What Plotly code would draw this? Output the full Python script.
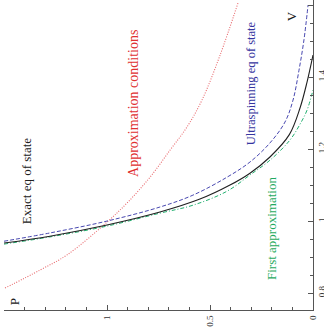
import plotly.graph_objects as go

# values: V (vertical axis) and P (horizontal, reversed)
approx_v = [0.814, 0.864, 0.906, 0.997, 1.053, 1.122, 1.197, 1.261, 1.336, 1.461, 1.606]
approx_p = [1.495, 1.325, 1.194, 1.000, 0.898, 0.791, 0.694, 0.612, 0.539, 0.451, 0.364]

exact_v = [0.939, 0.958, 0.989, 1.025, 1.061, 1.100, 1.133, 1.178, 1.240, 1.314, 1.386, 1.461]
exact_p = [1.500, 1.277, 1.000, 0.743, 0.549, 0.403, 0.306, 0.209, 0.115, 0.063, 0.029, 0.000]

ultra_v = [0.944, 0.967, 1.000, 1.039, 1.072, 1.122, 1.164, 1.217, 1.275, 1.336, 1.419, 1.503, 1.600]
ultra_p = [1.500, 1.277, 1.000, 0.743, 0.583, 0.417, 0.306, 0.209, 0.136, 0.097, 0.068, 0.044, 0.024]

first_v = [0.936, 0.956, 0.986, 1.022, 1.044, 1.083, 1.128, 1.169, 1.225, 1.269, 1.308, 1.364]
first_p = [1.500, 1.277, 1.000, 0.743, 0.583, 0.417, 0.306, 0.209, 0.112, 0.063, 0.029, 0.000]

p_ticks = [0, 0.5, 1, 1.5]
p_labels = ["0", "0.5", "1", "1.5"]
v_ticks = [0.8, 1.0, 1.2, 1.4, 1.6]
v_labels = ["0.8", "1", "1.2", "1.4", "1.6"]

SERIF = "Liberation Serif, Times New Roman, serif"

fig = go.Figure()

fig.add_trace(go.Scatter(x=approx_p, y=approx_v, mode="lines", line_shape="spline",
                         line=dict(color="#e8686c", width=1.1, dash="1px,1.5px")))
fig.add_trace(go.Scatter(x=ultra_p, y=ultra_v, mode="lines", line_shape="spline",
                         line=dict(color="#4848b0", width=1, dash="4px,2px")))
fig.add_trace(go.Scatter(x=first_p, y=first_v, mode="lines", line_shape="spline",
                         line=dict(color="#22b070", width=1, dash="4px,2px,1px,2px")))
fig.add_trace(go.Scatter(x=exact_p, y=exact_v, mode="lines", line_shape="spline",
                         line=dict(color="#202020", width=1.1)))

# curve labels, rotated like the rest of the plot
labels = [
    ("Exact eq of state", 1.393, 1.111, "#202020", 13),
    ("Approximation conditions", 0.869, 1.328, "#e03030", 14),
    ("Ultraspinning eq of state", 0.301, 1.383, "#3535a0", 12.5),
    ("First approximation", 0.199, 0.978, "#1faa60", 13),
    ("P", 1.451, 0.775, "#202020", 13),
    ("V", 0.107, 1.569, "#202020", 13),
]
for txt, px, vy, col, sz in labels:
    fig.add_annotation(x=px, y=vy, text=txt, showarrow=False, textangle=-90,
                       font=dict(family=SERIF, size=sz, color=col))

fig.update_layout(
    width=324, height=330,
    margin=dict(l=4, r=11, t=0, b=20),
    paper_bgcolor="white", plot_bgcolor="white",
    showlegend=False,
    font=dict(family=SERIF, size=9, color="#333"),
)

fig.update_xaxes(
    range=[1.5, 0], tickvals=p_ticks, ticktext=p_labels, tickangle=-90, automargin=False,
    showgrid=False, zeroline=False, showline=True, linecolor="#555", linewidth=1,
    ticks="inside", ticklen=5, tickcolor="#555", ticklabelstandoff=1,
    minor=dict(dtick=0.1, tick0=0, ticks="inside", ticklen=3, tickcolor="#555"),
)
fig.update_yaxes(
    range=[0.753, 1.614], side="right", tickvals=v_ticks, ticktext=v_labels, tickangle=-90,
    automargin=False, ticklabelstandoff=0,
    showgrid=False, zeroline=False, showline=True, linecolor="#555", linewidth=1,
    ticks="inside", ticklen=5, tickcolor="#555",
    minor=dict(dtick=0.05, tick0=0, ticks="inside", ticklen=3, tickcolor="#555"),
)

# the page body has a default margin; drop it so the figure sits at the corner
fig.write_html("out.html", config={"displayModeBar": False},
               post_script="document.body.style.margin='0';")
